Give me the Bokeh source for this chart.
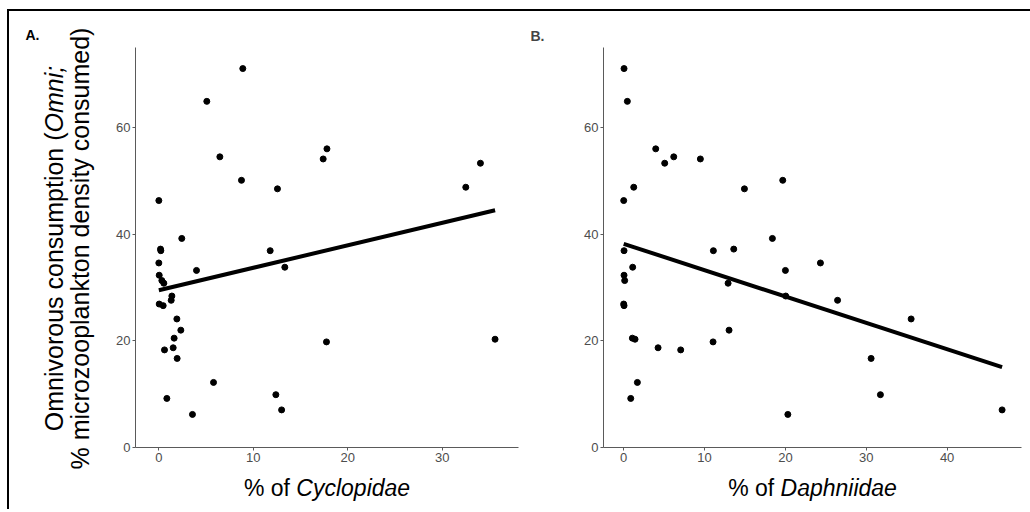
import math
import numpy as np
from bokeh.plotting import figure
from bokeh.models import Range1d, FixedTicker
from bokeh.layouts import row, column
from bokeh.core.properties import value
from bokeh.embed import file_html
from bokeh.resources import INLINE

# ---------------- data ----------------
omni = [71.05, 64.9, 56.0, 54.5, 54.1, 53.3, 50.1, 48.8, 48.5, 46.3,
        39.2, 37.2, 36.9, 36.9, 34.6, 33.8, 33.2, 32.3, 31.3, 30.8,
        28.4, 27.6, 26.9, 26.6, 24.1, 22.0, 20.5, 20.3, 19.8, 18.7,
        18.3, 16.7, 12.2, 9.9, 9.2, 7.05, 6.2]
cyclopidae = [8.89, 5.08, 17.8, 6.46, 17.4, 34.05, 8.75, 32.5, 12.56, 0.0,
              2.43, 0.18, 0.21, 11.79, 0.0, 13.34, 3.99, 0.04, 0.32, 0.53,
              1.38, 1.31, 0.04, 0.46, 1.91, 2.33, 1.62, 35.6, 17.75, 1.52,
              0.6, 1.94, 5.79, 12.39, 0.85, 13.0, 3.56]
daphniidae = [0.04, 0.45, 3.96, 6.19, 9.48, 5.07, 19.67, 1.24, 14.93, 0.0,
              18.39, 13.61, 0.04, 11.09, 24.33, 1.11, 20.0, 0.04, 0.12, 12.91,
              20.04, 26.45, 0.0, 0.04, 35.55, 13.03, 1.07, 1.4, 11.05, 4.25,
              7.05, 30.6, 1.69, 31.75, 0.87, 46.8, 20.3]
x_ticks_a = [0, 10, 20, 30]
x_ticks_b = [0, 10, 20, 30, 40]
y_ticks = [0, 20, 40, 60]

ytitle_line1_reg = "Omnivorous consumption ("
ytitle_line1_ital = "Omni;"
ytitle_line2 = "% microzooplankton density consumed)"
xtitle_reg = "% of"
xtitle_a_ital = "Cyclopidae"
xtitle_b_ital = "Daphniidae"

# ---------------- styling / layout ----------------
FONT = "Liberation Sans"
AXIS_COL = "#5a5a5a"
TICK_TXT = "#4D4D4D"
OX, OY = 9, 11                 # page position of the content (inside border)
YLAB_W = 95                    # left strip holding the y title
PLOT_H, XLAB_H = 458, 40
TOP, BOTTOM = 36, 22
Y_RANGE = (0, 75)
BASE_SHIFT = 0.39              # anchor correction of text baseline (x size)

# Arial / Liberation Sans advance widths (1/1000 em)
ADV = {' ': 278, '%': 889, '(': 333, ')': 333, ';': 278, 'O': 778, 'C': 722,
       'D': 722, 'a': 556, 'c': 500, 'd': 556, 'e': 556, 'f': 278, 'h': 556,
       'i': 222, 'k': 500, 'l': 222, 'm': 833, 'n': 556, 'o': 556, 'p': 556,
       'r': 333, 's': 500, 't': 278, 'u': 556, 'v': 500, 'y': 500, 'z': 500}


def tw(s, size):
    return sum(ADV.get(c, 556) for c in s) / 1000.0 * size


def text_canvas(x0, y0, w, h):
    """A figure whose frame is its whole canvas, in page-pixel units."""
    p = figure(width=w, height=h, x_range=Range1d(x0, x0 + w),
               y_range=Range1d(y0 + h, y0), x_axis_type=None,
               y_axis_type=None, output_backend="svg", toolbar_location=None,
               min_border=0)
    p.outline_line_color = None
    p.xgrid.grid_line_color = None
    p.ygrid.grid_line_color = None
    return p


def make_panel(xs, ys, x_range, ticks, width, left, right):
    p = figure(width=width, height=PLOT_H, x_range=Range1d(*x_range),
               y_range=Range1d(*Y_RANGE), output_backend="svg",
               toolbar_location=None, min_border_left=left,
               min_border_right=right, min_border_top=TOP,
               min_border_bottom=BOTTOM)
    p.outline_line_color = None
    p.xgrid.grid_line_color = None
    p.ygrid.grid_line_color = None
    p.xaxis.ticker = FixedTicker(ticks=ticks)
    p.yaxis.ticker = FixedTicker(ticks=y_ticks)
    for ax in (p.xaxis[0], p.yaxis[0]):
        ax.axis_line_color = AXIS_COL
        ax.axis_line_width = 1
        ax.major_tick_line_color = AXIS_COL
        ax.major_tick_out = 3
        ax.major_tick_in = 0
        ax.minor_tick_line_color = None
        ax.major_label_text_font = FONT
        ax.major_label_text_font_size = "13px"
        ax.major_label_text_color = TICK_TXT
        ax.major_label_standoff = 2

    p.scatter(xs, ys, size=6, color="black")

    # ordinary least-squares fit over the data range
    slope, icpt = np.polyfit(xs, ys, 1)
    x0, x1 = min(xs), max(xs)
    p.line([x0, x1], [icpt + slope * x0, icpt + slope * x1],
           line_color="black", line_width=4)
    return p


# panel A: page x 104..520, frame 135..518
WA, LA, RA = 416, 31, 2
pa = make_panel(cyclopidae, omni, (-2.47, 38.08), x_ticks_a, WA, LA, RA)
# panel B: page x 520..1030, frame 603..1021
WB, LB, RB = 510, 83, 9
pb = make_panel(daphniidae, omni, (-2.5, 49.2), x_ticks_b, WB, LB, RB)
pb.title.text = "B."
pb.title.align = "left"
pb.title.offset = -73
pb.title.standoff = 7
pb.title.text_font = FONT
pb.title.text_font_size = "14px"
pb.title.text_font_style = "bold"

# ---- left strip: panel letter A. and the two-line y title ----
yl = text_canvas(OX, OY, YLAB_W, PLOT_H + XLAB_H)
yl.text(x=[25], y=[39.5 - BASE_SHIFT * 14], text=["A."],
        text_font=value(FONT), text_font_size="14px",
        text_font_style="bold", text_baseline="alphabetic",
        text_color="black")
YS = 25
cy = 248
w1r, w1i = tw(ytitle_line1_reg, YS), tw(ytitle_line1_ital, YS)
ysplit = cy + (w1r + w1i) / 2 - w1r
bx1 = 63 - BASE_SHIFT * YS
bx2 = 89 - BASE_SHIFT * YS
yl.text(x=[bx1], y=[ysplit], text=[ytitle_line1_reg], angle=math.pi / 2,
        text_font=value(FONT), text_font_size=f"{YS}px", text_align="right",
        text_baseline="alphabetic", text_color="black")
yl.text(x=[bx1], y=[ysplit], text=[ytitle_line1_ital], angle=math.pi / 2,
        text_font=value(FONT), text_font_size=f"{YS}px",
        text_font_style="italic", text_align="left",
        text_baseline="alphabetic", text_color="black")
yl.text(x=[bx2], y=[cy], text=[ytitle_line2], angle=math.pi / 2,
        text_font=value(FONT), text_font_size=f"{YS}px", text_align="center",
        text_baseline="alphabetic", text_color="black")

# ---- bottom strip: x titles ----
XL_X0 = OX + YLAB_W
xl = text_canvas(XL_X0, OY + PLOT_H, WA + WB, XLAB_H)
XS = 23
sp = tw(" ", XS)
by = 496 - BASE_SHIFT * XS
for fl, fw, ital in ((XL_X0 + LA, WA - LA - RA, xtitle_a_ital),
                     (XL_X0 + WA + LB, 1021 - (XL_X0 + WA + LB), xtitle_b_ital)):
    cx = fl + fw / 2
    wr, wi = tw(xtitle_reg, XS) + sp, tw(ital, XS)
    split = cx - (wr + wi) / 2 + wr
    xl.text(x=[split - sp], y=[by], text=[xtitle_reg], text_font=value(FONT),
            text_font_size=f"{XS}px", text_align="right",
            text_baseline="alphabetic", text_color="black")
    xl.text(x=[split], y=[by], text=[ital], text_font=value(FONT),
            text_font_size=f"{XS}px", text_font_style="italic",
            text_align="left", text_baseline="alphabetic", text_color="black")

layout = row(yl, column(row(pa, pb), xl),
             styles={"margin-left": "7px", "margin-top": "9px",
                     "border-top": "2px solid black",
                     "border-left": "2px solid black"})

with open("out.html", "w") as f:
    f.write(file_html(layout, INLINE))
